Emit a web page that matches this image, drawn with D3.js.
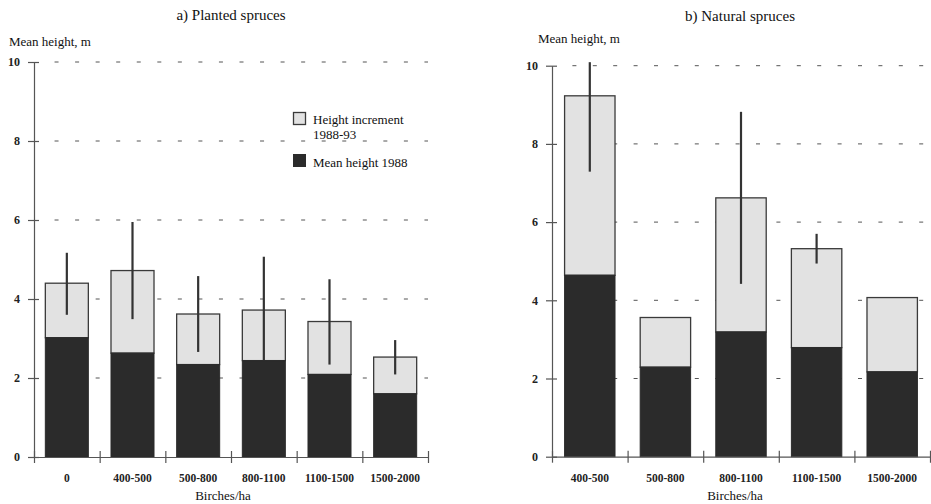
<!DOCTYPE html>
<html>
<head>
<meta charset="utf-8">
<script src="https://cdn.jsdelivr.net/npm/d3@7"></script>
<style>
  body { margin: 0; background: #fff; }
  svg { display: block; font-family: "Liberation Serif", "Times New Roman", serif; }
</style>
</head>
<body>
<svg id="chart" width="931" height="504"></svg>
<script>
// ---- data ----
const plantedCategories = ["0", "400-500", "500-800", "800-1100", "1100-1500", "1500-2000"];
const plantedHeight1988 = [3.02, 2.63, 2.34, 2.44, 2.09, 1.60];
const plantedTotal1993  = [4.40, 4.72, 3.62, 3.72, 3.43, 2.53];
const plantedErrLow     = [3.60, 3.49, 2.66, 2.45, 2.34, 2.09];
const plantedErrHigh    = [5.17, 5.95, 4.58, 5.07, 4.50, 2.96];

const naturalCategories = ["400-500", "500-800", "800-1100", "1100-1500", "1500-2000"];
const naturalHeight1988 = [4.64, 2.29, 3.19, 2.79, 2.17];
const naturalTotal1993  = [9.23, 3.56, 6.62, 5.32, 4.07];
const naturalErrLow     = [7.29, null, 4.42, 4.94, null];
const naturalErrHigh    = [10.09, null, 8.82, 5.70, null];

const yTicks = [0, 2, 4, 6, 8, 10];
const legendLabels = ["Height increment", "1988-93", "Mean height 1988"];

// ---- style ----
const DARK = "#2b2b2b", LIGHT = "#e2e2e2", STROKE = "#3a3a3a", AXIS = "#555";

const svg = d3.select("#chart");

function panel(opt) {
  const g = svg.append("g");
  const y = d3.scaleLinear().domain([0, 10]).range([opt.y0, opt.y10]);
  const slots = d3.scaleBand().domain(opt.cats).range([opt.x0, opt.x1]).padding(0);
  const idx = d3.scaleLinear().domain([0, opt.cats.length]).range([opt.x0, opt.x1]);
  const bw = slots.bandwidth() * opt.barFrac;
  const bx = c => slots(c) + (slots.bandwidth() - bw) / 2;

  // dashed gridlines
  g.append("g").selectAll("line").data(yTicks.filter(t => t > 0)).join("line")
    .attr("x1", opt.x0 + opt.dashPeriod).attr("x2", opt.gridEnd)
    .attr("y1", d => y(d)).attr("y2", d => y(d))
    .attr("stroke", AXIS).attr("stroke-width", 1)
    .attr("stroke-dasharray", `4,${opt.dashPeriod - 4}`);

  const rows = opt.cats.map((c, i) => ({c, h: opt.h88[i], t: opt.tot[i], lo: opt.lo[i], hi: opt.hi[i]}));

  // increment segment
  g.append("g").selectAll("rect").data(rows).join("rect")
    .attr("x", d => bx(d.c)).attr("width", bw)
    .attr("y", d => y(d.t)).attr("height", d => y(d.h) - y(d.t))
    .attr("fill", LIGHT).attr("stroke", STROKE).attr("stroke-width", 1.3);
  // 1988 height segment
  g.append("g").selectAll("rect").data(rows).join("rect")
    .attr("x", d => bx(d.c)).attr("width", bw)
    .attr("y", d => y(d.h)).attr("height", d => y(0) - y(d.h))
    .attr("fill", DARK).attr("stroke", DARK).attr("stroke-width", 1);

  // error bars
  g.append("g").selectAll("line").data(rows.filter(d => d.lo != null)).join("line")
    .attr("x1", d => slots(d.c) + slots.bandwidth() / 2)
    .attr("x2", d => slots(d.c) + slots.bandwidth() / 2)
    .attr("y1", d => y(d.lo)).attr("y2", d => y(d.hi))
    .attr("stroke", "#333").attr("stroke-width", 2.2);

  // y axis
  const ya = g.append("g").attr("transform", `translate(${opt.x0},0)`)
    .call(d3.axisLeft(y).tickValues(yTicks).tickSize(6).tickSizeOuter(0).tickPadding(8));
  ya.select(".domain").attr("stroke", AXIS).attr("stroke-width", 1.2);
  ya.selectAll(".tick line").attr("x1", 5).attr("x2", -6).attr("stroke", AXIS).attr("stroke-width", 1.2);
  ya.selectAll(".tick text").attr("font-family", "Liberation Serif").attr("font-weight", "bold")
    .attr("font-size", 12).attr("fill", "#222");

  // x axis boundary ticks
  const xa = g.append("g").attr("transform", `translate(0,${opt.y0})`)
    .call(d3.axisBottom(idx).tickValues(d3.range(opt.cats.length + 1)).tickFormat("").tickSize(6).tickSizeOuter(0));
  xa.select(".domain").attr("stroke", AXIS).attr("stroke-width", 1.2);
  xa.selectAll(".tick line").attr("y1", -6).attr("y2", 6).attr("stroke", AXIS).attr("stroke-width", 1.2);

  // x category labels
  const xl = g.append("g").attr("transform", `translate(0,${opt.y0})`)
    .call(d3.axisBottom(slots).tickSize(0).tickPadding(17));
  xl.select(".domain").remove();
  xl.selectAll(".tick text").attr("font-family", "Liberation Serif").attr("font-weight", "bold")
    .attr("font-size", 11.5).attr("fill", "#222");

  // texts
  g.append("text").attr("x", opt.titleX).attr("y", opt.titleY).attr("text-anchor", "middle")
    .attr("font-size", 15).attr("fill", "#111").text(opt.title);
  g.append("text").attr("x", opt.ylabX).attr("y", opt.ylabY)
    .attr("font-size", 13).attr("fill", "#111").text("Mean height, m");
  g.append("text").attr("x", opt.xlabX).attr("y", 500).attr("text-anchor", "middle")
    .attr("font-size", 13).attr("fill", "#111").text("Birches/ha");
}

panel({
  cats: plantedCategories, h88: plantedHeight1988, tot: plantedTotal1993,
  lo: plantedErrLow, hi: plantedErrHigh,
  x0: 34, x1: 428, y0: 457, y10: 62, barFrac: 0.655, gridEnd: 428, dashPeriod: 20.55,
  title: "a) Planted spruces", titleX: 231, titleY: 20,
  ylabX: 9, ylabY: 46, xlabX: 223
});

panel({
  cats: naturalCategories, h88: naturalHeight1988, tot: naturalTotal1993,
  lo: naturalErrLow, hi: naturalErrHigh,
  x0: 552, x1: 930, y0: 456.7, y10: 65.7, barFrac: 0.667, gridEnd: 931, dashPeriod: 20.4,
  title: "b) Natural spruces", titleX: 740, titleY: 21,
  ylabX: 538, ylabY: 43, xlabX: 735
});

// legend (in panel a)
const lg = svg.append("g");
lg.append("rect").attr("x", 293.5).attr("y", 112.5).attr("width", 12).attr("height", 12)
  .attr("fill", LIGHT).attr("stroke", STROKE).attr("stroke-width", 1.3);
lg.append("rect").attr("x", 293.5).attr("y", 154.5).attr("width", 12).attr("height", 12)
  .attr("fill", DARK).attr("stroke", DARK).attr("stroke-width", 1);
lg.append("text").attr("x", 313).attr("y", 123.5).attr("font-size", 13).attr("fill", "#111").text(legendLabels[0]);
lg.append("text").attr("x", 313).attr("y", 138.5).attr("font-size", 13).attr("fill", "#111").text(legendLabels[1]);
lg.append("text").attr("x", 313).attr("y", 166.5).attr("font-size", 13).attr("fill", "#111").text(legendLabels[2]);
</script>
</body>
</html>
